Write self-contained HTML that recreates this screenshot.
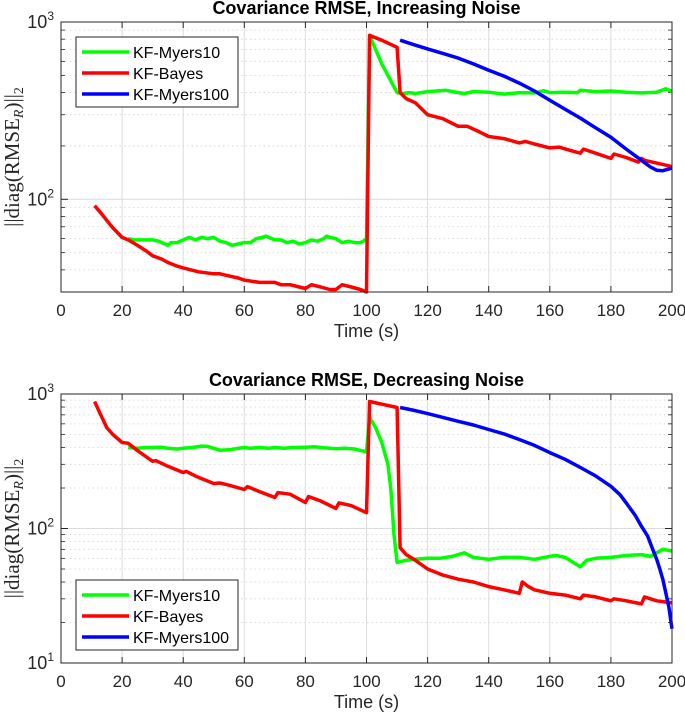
<!DOCTYPE html>
<html><head><meta charset="utf-8">
<style>
html,body{margin:0;padding:0;background:#fff;}
svg{display:block;}
text{font-family:"Liberation Sans",Arial,sans-serif;}
</style></head>
<body>
<svg id="chart" width="685" height="719" xmlns="http://www.w3.org/2000/svg"></svg>
<script>
// ---- Data: top plot (Increasing Noise) ----
const xTicks = [0,20,40,60,80,100,120,140,160,180,200];
const topRedT = [11,13,15,17,20,22,25,28,30,33,35,38,40,45,50,52,55,58,60,65,70,72,75,78,80,82,85,88,90,92,95,98,100,101,105,110,111,113,116,120,125,130,133,137,140,145,150,152,155,160,163,167,170,171,175,180,181,185,189,190,191,195,200];
const topRedV = [92,84,76,69,61,59,55,51,48,46,44,42,41,39,38,38,37,36,35,34,34,33,33,32,31.4,33,32,31,31,33,32,31,30,840,790,720,400,370,350,300,285,258,258,240,226,220,208,212,205,195,197,188,182,192,182,170,180,172,162,170,166,160,153];
const topGreenT = [22,24,26,28,30,32,35,36,38,40,42,44,46,48,50,52,54,56,58,60,62,64,66,67,68,70,72,74,76,78,80,82,84,86,87,88,90,92,94,96,98,99,100,101,105,110,112,114,116,120,124,126,130,132,135,140,145,150,155,158,160,165,169,170,175,180,185,190,195,198,200];
const topGreenV = [60,59,59,59,59,58,55,57,57,59,61,59,61,60,61,58,57,55,56,57,57,60,61,62,61,59,59,57,58,56,57,59,58,60,62,61,60,57,58,57,57,58,60,840,580,400,395,400,395,405,410,412,400,395,405,402,392,400,398,410,400,402,400,412,405,408,402,398,402,420,405];
const topBlueT = [111,115,120,125,130,135,140,145,150,155,160,165,170,175,180,185,190,193,195,197,200];
const topBlueV = [790,750,705,665,626,580,535,495,452,408,362,322,287,253,224,192,166,152,146,145,150];
// ---- Data: bottom plot (Decreasing Noise) ----
const botRedT = [11,13,15,17,20,22,25,30,31,35,40,41,45,50,52,55,60,61,65,70,71,75,80,81,85,90,91,95,100,101,110,111,113,116,120,125,130,135,140,145,150,151,153,155,160,165,170,171,175,180,181,185,190,191,195,200];
const botRedV = [880,700,563,500,436,430,380,316,320,290,261,266,240,216,218,210,195,205,188,170,185,180,156,173,160,141,155,148,131,880,794,72,64,58,50,45,42,40,37,35,33,40,37,35,33,32,30,32,31,29,30,29,27.5,31,29,28];
const botGreenT = [22,25,28,30,33,35,38,40,43,46,48,50,52,55,58,60,62,65,68,70,73,76,80,83,86,90,93,96,100,101,103,105,107,108,109,110,113,116,120,124,128,132,135,140,145,150,155,160,162,165,170,172,175,180,185,190,193,195,197,200];
const botGreenV = [400,395,400,400,402,395,390,395,400,410,408,395,382,385,395,400,395,400,395,400,395,400,402,405,398,392,395,390,372,668,560,436,300,195,90,56,58,59,60,60,62,66,61,59,61,61,59,62,63,61,52,58,60,61,63,64,62,66,70,68];
const botBlueT = [111,115,120,125,130,135,140,145,150,155,160,165,170,175,180,183,185,188,190,192,194,195,196,197,198,199,200];
const botBlueV = [794,760,715,670,627,588,545,505,459,415,367,327,284,246,206,178,155,125,104,88,67,59,50,42,33,26,18];

const NS = "http://www.w3.org/2000/svg";
const svg = document.getElementById('chart');
function el(tag, attrs, parent){ const e=document.createElementNS(NS,tag); for(const k in attrs) e.setAttribute(k,attrs[k]); (parent||svg).appendChild(e); return e; }

function makePlot(cfg){
  const L=61,R=672,T=cfg.top,B=cfg.bottom;
  const lmin=Math.log10(cfg.ymin), lmax=Math.log10(cfg.ymax);
  const xs=t=>L+(t-0)/(200-0)*(R-L);
  const ys=v=>B-(Math.log10(v)-lmin)/(lmax-lmin)*(B-T);
  const g=el('g',{});
  
  
  for(let d=Math.floor(lmin); d<Math.ceil(lmax); d++){
    for(let m=2;m<=9;m++){
      const v=m*Math.pow(10,d); if(v<cfg.ymin||v>cfg.ymax) continue;
      const y=ys(v);
      const ln=el('line',{x1:L,x2:R,y1:y,y2:y,stroke:'#d4d4d4','stroke-width':0.8,'stroke-dasharray':'1.5 3'},g);
      
      
      el('line',{x1:L,x2:L+4,y1:y,y2:y,stroke:'#262626','stroke-width':0.8},g);
      el('line',{x1:R,x2:R-4,y1:y,y2:y,stroke:'#262626','stroke-width':0.8},g);
    }
  }
  xTicks.forEach(t=>{
    const x=xs(t);
    const ln=el('line',{x1:x,x2:x,y1:T,y2:B,stroke:'#dcdcdc','stroke-width':1},g);
    
    
    el('line',{x1:x,x2:x,y1:B,y2:B-6,stroke:'#262626','stroke-width':1},g);
    el('line',{x1:x,x2:x,y1:T,y2:T+6,stroke:'#262626','stroke-width':1},g);
    const tx=el('text',{x:x,y:B+24,'text-anchor':'middle','font-size':17,fill:'#262626'},g);
    tx.textContent=t;
    
    
  });
  for(let d=Math.ceil(lmin); d<=Math.floor(lmax); d++){
    const y=ys(Math.pow(10,d));
    const ln=el('line',{x1:L,x2:R,y1:y,y2:y,stroke:'#dcdcdc','stroke-width':1},g);
    
    
    el('line',{x1:L,x2:L+7,y1:y,y2:y,stroke:'#262626','stroke-width':1},g);
    el('line',{x1:R,x2:R-7,y1:y,y2:y,stroke:'#262626','stroke-width':1},g);
    const tx=el('text',{x:L-7,y:y+6,'text-anchor':'end','font-size':18,fill:'#262626'},g);
    tx.innerHTML='10<tspan dy="-8" font-size="12">'+d+'</tspan>';
    
    
  }
  const series=[[cfg.green,'#00ff00','series-kf-myers10'],[cfg.red,'#ff0000','series-kf-bayes'],[cfg.blue,'#0000ff','series-kf-myers100']];
  series.forEach(([d,c,n])=>{
    const pts=d[0].map((t,i)=>xs(t).toFixed(1)+','+ys(Math.max(cfg.ymin,Math.min(cfg.ymax,d[1][i]))).toFixed(1)).join(' ');
    const pl=el('polyline',{points:pts,fill:'none',stroke:c,'stroke-width':3.5,'stroke-linejoin':'round'},g);
    
    
  });
  const bx=el('rect',{x:L,y:T,width:R-L,height:B-T,fill:'none',stroke:'#262626','stroke-width':1},g);
  
  
  const ti=el('text',{x:(L+R)/2,y:cfg.titleY,'text-anchor':'middle','font-size':18,'font-weight':'bold',fill:'#000'},g);
  ti.textContent=cfg.title;
  
  
  const xl=el('text',{x:(L+R)/2,y:B+45,'text-anchor':'middle','font-size':18,fill:'#262626'},g);
  xl.textContent='Time (s)';
  
  
  const yc=(T+B)/2;
  const yl=el('text',{x:0,y:0,transform:'translate(19,'+yc+') rotate(-90)','text-anchor':'middle','font-size':21,fill:'#262626',style:'font-family:"Liberation Serif",serif'},g);
  yl.innerHTML='||diag(RMSE<tspan dy="4" font-size="14" font-style="italic">R</tspan><tspan dy="-4">)||</tspan><tspan dy="4" font-size="14">2</tspan>';
  
  
  const lg=el('g',{},g);
  
  
  const lx=76, ly=cfg.legendY;
  el('rect',{x:lx,y:ly,width:162,height:70,fill:'#fff',stroke:'#262626','stroke-width':1},lg);
  [['KF-Myers10','#00ff00'],['KF-Bayes','#ff0000'],['KF-Myers100','#0000ff']].forEach(([n,c],i)=>{
    const yy=ly+15+i*21;
    const ent=el('g',{},lg);
    
    
    el('line',{x1:lx+6,x2:lx+53,y1:yy,y2:yy,stroke:c,'stroke-width':3.5},ent);
    const t=el('text',{x:lx+57,y:yy+6,'font-size':16,fill:'#000'},ent);
    t.textContent=n;
  });
}

makePlot({name:'plot-increasing-noise',top:22,bottom:292,ymin:30,ymax:1000,titleY:14,legendY:37,
  title:'Covariance RMSE, Increasing Noise',
  red:[topRedT,topRedV],green:[topGreenT,topGreenV],blue:[topBlueT,topBlueV]});
makePlot({name:'plot-decreasing-noise',top:394,bottom:663,ymin:10,ymax:1000,titleY:386,legendY:580,
  title:'Covariance RMSE, Decreasing Noise',
  red:[botRedT,botRedV],green:[botGreenT,botGreenV],blue:[botBlueT,botBlueV]});
</script>
</body></html>
